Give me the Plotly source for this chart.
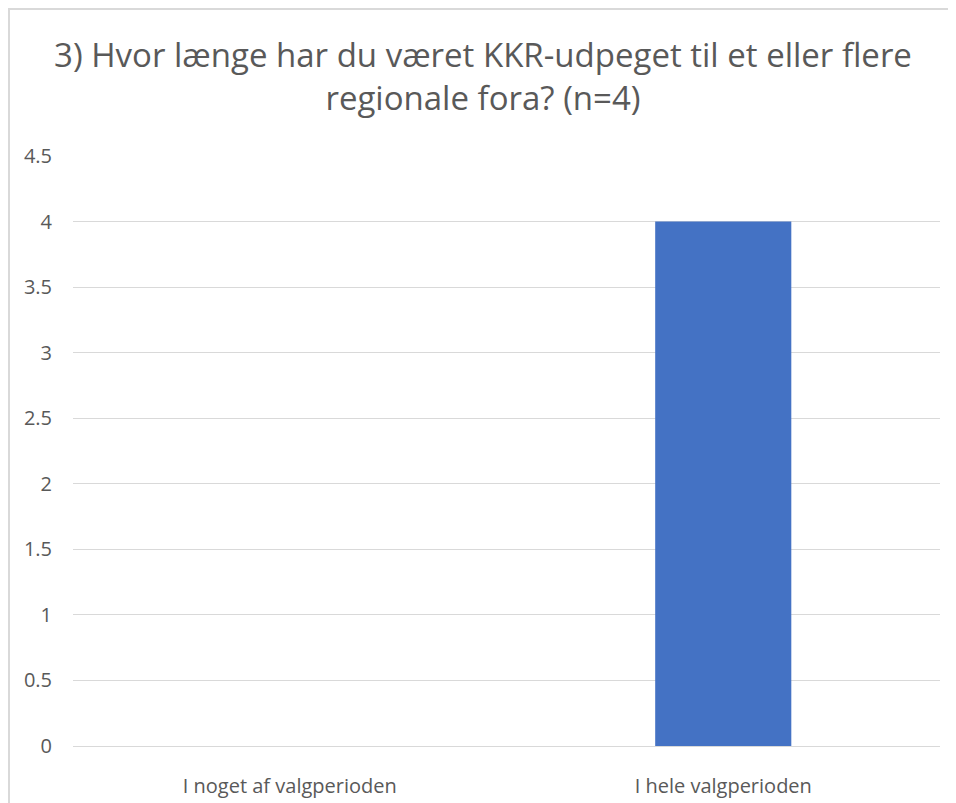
import plotly.graph_objects as go

# Survey answers (n=4)
categories = ["I noget af valgperioden", "I hele valgperioden"]
counts = [0, 4]

# Tick values on the y axis
y_ticks = [0, 0.5, 1, 1.5, 2, 2.5, 3, 3.5, 4, 4.5]
y_tick_labels = ["0", "0.5", "1", "1.5", "2", "2.5", "3", "3.5", "4", "4.5"]

TEXT_COLOR = "#595959"
GRID_COLOR = "#d9d9d9"
FONT = "Open Sans, Liberation Sans, sans-serif"

# The page body has an 8px margin, so the figure sits 8px in from the window's top-left
FIG_W, FIG_H = 948, 795
PLOT_L, PLOT_R, PLOT_T, PLOT_B = 65, 932, 148, 738

fig = go.Figure(go.Bar(
    x=categories,
    y=counts,
    marker=dict(color="#4472c4", line=dict(width=0)),
    width=0.314,
))

fig.update_layout(
    width=FIG_W,
    height=FIG_H,
    margin=dict(l=PLOT_L, r=FIG_W - PLOT_R, t=PLOT_T, b=FIG_H - PLOT_B, autoexpand=False),
    paper_bgcolor="white",
    plot_bgcolor="white",
    font=dict(family=FONT, color=TEXT_COLOR),
    showlegend=False,
    title=dict(
        text="3) Hvor længe har du været KKR-udpeget til et eller flere<br>regionale fora? (n=4)",
        x=(475 / FIG_W),
        xanchor="center",
        y=1 - 59 / FIG_H,
        yanchor="top",
        font=dict(family=FONT, size=33, color=TEXT_COLOR),
    ),
)

fig.update_yaxes(
    range=[0, 4.5],
    tickvals=y_ticks,
    ticktext=y_tick_labels,
    showgrid=True,
    gridcolor=GRID_COLOR,
    gridwidth=1,
    zeroline=False,
    showline=False,
    ticks="",
    automargin=False,
    ticklabelstandoff=20,
    tickfont=dict(size=20, color=TEXT_COLOR),
)

fig.update_xaxes(
    showgrid=False,
    showline=True,
    linecolor=GRID_COLOR,
    linewidth=1,
    ticks="",
    automargin=False,
    ticklabelstandoff=22,
    tickfont=dict(size=20, color=TEXT_COLOR),
)

# Chart outer border (cropped at right and bottom in the original)
plot_w = PLOT_R - PLOT_L
plot_h = PLOT_B - PLOT_T
fig.add_shape(
    type="rect",
    xref="paper", yref="paper",
    x0=(1 - PLOT_L) / plot_w, x1=1.5,
    y0=-0.5, y1=1 + (PLOT_T - 1) / plot_h,
    line=dict(color=GRID_COLOR, width=2),
    fillcolor="rgba(0,0,0,0)",
    layer="below",
)

fig.write_html("out.html")
